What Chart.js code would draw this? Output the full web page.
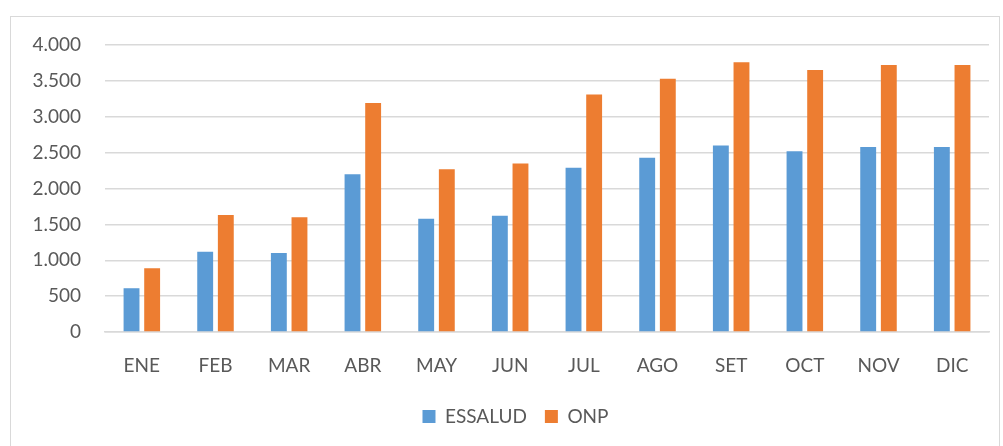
<!DOCTYPE html>
<html>
<head>
<meta charset="utf-8">
<script src="https://cdn.jsdelivr.net/npm/chart.js@4"></script>
<style>
  html, body { margin: 0; padding: 0; background: #fff; }
  #wrap { position: relative; width: 1003px; height: 446px; overflow: hidden; }
  #frame { position: absolute; left: 10px; top: 16px; width: 990px; height: 460px; border: 1px solid #d9d9d9; box-sizing: border-box; }
  canvas { position: absolute; left: 0; top: 0; }
</style>
</head>
<body>
<div id="wrap">
  <div id="frame"></div>
  <canvas id="chart" width="1003" height="446"></canvas>
</div>
<script>
const months = ['ENE', 'FEB', 'MAR', 'ABR', 'MAY', 'JUN', 'JUL', 'AGO', 'SET', 'OCT', 'NOV', 'DIC'];
const essalud = [610, 1120, 1100, 2200, 1580, 1620, 2290, 2430, 2600, 2520, 2580, 2580];
const onp = [890, 1630, 1600, 3190, 2270, 2350, 3310, 3530, 3760, 3650, 3720, 3720];

const fontFamily = 'Lato, "Open Sans", sans-serif';
const textColor = '#595959';

function fmt(v) {
    // thousands with a dot, like the original
    return String(v).replace(/\B(?=(\d{3})+(?!\d))/g, '.');
}

// the legend in the original sits a bit right of centre
const legendShift = {
    id: 'legendShift',
    afterLayout(chart) {
        chart.legend.left += 16;
        chart.legend.right += 16;
    }
};

const ctx = document.getElementById('chart').getContext('2d');

new Chart(ctx, {
    type: 'bar',
    data: {
        labels: months,
        datasets: [
            {
                label: 'ESSALUD',
                data: essalud,
                backgroundColor: '#5B9BD5',
                barPercentage: 0.77,
                categoryPercentage: 0.56
            },
            {
                label: 'ONP',
                data: onp,
                backgroundColor: '#ED7D31',
                barPercentage: 0.77,
                categoryPercentage: 0.56
            }
        ]
    },
    options: {
        responsive: false,
        animation: false,
        layout: {
            padding: { left: 10, right: 14, top: 45, bottom: 10 }
        },
        scales: {
            x: {
                grid: { display: false, drawTicks: false },
                border: { color: '#d9d9d9', width: 1.5 },
                ticks: {
                    color: textColor,
                    font: { family: fontFamily, size: 19 },
                    padding: 22
                },
                afterFit: function(scale) { scale.height = 57; }
            },
            y: {
                min: 0,
                max: 4000,
                grid: { color: '#d9d9d9', lineWidth: 1.5, drawTicks: false },
                border: { display: false },
                ticks: {
                    stepSize: 500,
                    color: textColor,
                    font: { family: fontFamily, size: 19 },
                    padding: 24,
                    callback: function(value) { return fmt(value); }
                },
                afterFit: function(scale) { scale.width = 95; }
            }
        },
        plugins: {
            legend: {
                position: 'bottom',
                labels: {
                    color: textColor,
                    font: { family: fontFamily, size: 19 },
                    boxWidth: 13,
                    boxHeight: 13,
                    padding: 18
                }
            },
            tooltip: { enabled: false }
        }
    },
    plugins: [legendShift]
});
</script>
</body>
</html>
